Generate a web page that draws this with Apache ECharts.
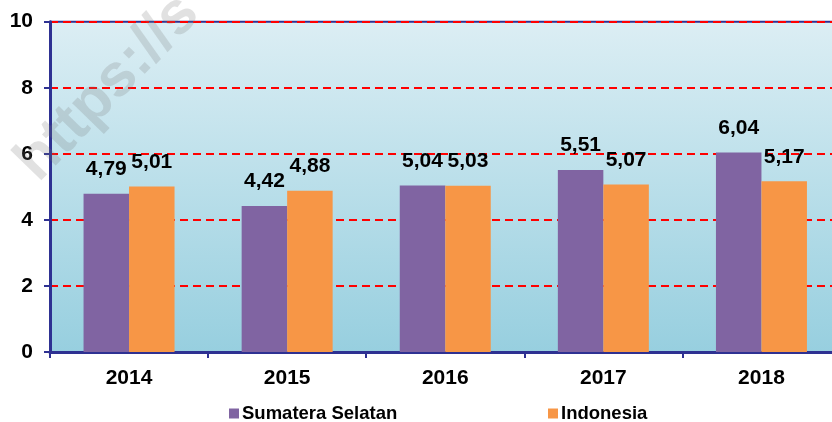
<!DOCTYPE html>
<html>
<head>
<meta charset="utf-8">
<script src="https://cdn.jsdelivr.net/npm/echarts@6/dist/echarts.min.js"></script>
<style>
  html, body { margin: 0; padding: 0; background: #ffffff; overflow: hidden; }
  /* the plot runs a few pixels past the right edge of the window */
  #chart { width: 841px; height: 422px; }
</style>
</head>
<body>
<div id="chart"></div>
<script>
// Growth figures per year, two regions
const years = ['2014', '2015', '2016', '2017', '2018'];
const sumateraSelatan = [4.79, 4.42, 5.04, 5.51, 6.04];
const indonesia = [5.01, 4.88, 5.03, 5.07, 5.17];
const yTicks = { min: 0, max: 10, interval: 2 };

const FONT = '"Liberation Sans", Arial, sans-serif';
const NAVY = '#2e3192';
const fmt = v => String(v.toFixed(2)).replace('.', ',');

const chart = echarts.init(document.getElementById('chart'), null, { renderer: 'canvas' });

const labelStyle = {
  show: true,
  position: 'top',
  distance: 14,
  color: '#000',
  fontFamily: FONT,
  fontWeight: 'bold',
  fontSize: 21,
  formatter: p => fmt(p.value)
};

const legendText = { fontFamily: FONT, fontWeight: 'bold', fontSize: 18.5, color: '#000', padding: [0, 0, 0, -2] };

chart.setOption({
  animation: false,
  grid: {
    left: 50, top: 21.7, bottom: 70, right: 0.5,
    show: true,
    borderColor: NAVY,
    borderWidth: 2,
    backgroundColor: {
      type: 'linear', x: 0, y: 0, x2: 0, y2: 1,
      colorStops: [
        { offset: 0, color: '#dceef4' },
        { offset: 1, color: '#97cfdf' }
      ]
    }
  },
  legend: [
    {
      data: ['Sumatera Selatan'],
      left: 224, top: 399,
      itemWidth: 10, itemHeight: 10, itemGap: 0,
      icon: 'rect',
      textStyle: legendText
    },
    {
      data: ['Indonesia'],
      left: 543, top: 399,
      itemWidth: 10, itemHeight: 10, itemGap: 0,
      icon: 'rect',
      textStyle: legendText
    }
  ],
  xAxis: {
    type: 'category',
    data: years,
    axisLine: { lineStyle: { color: NAVY, width: 3 } },
    axisTick: { show: true, length: 6, lineStyle: { color: NAVY, width: 2 } },
    axisLabel: { color: '#000', fontFamily: FONT, fontWeight: 'bold', fontSize: 21, margin: 16 }
  },
  yAxis: {
    type: 'value',
    min: yTicks.min, max: yTicks.max, interval: yTicks.interval,
    axisLine: { show: true, lineStyle: { color: NAVY, width: 3 } },
    axisTick: { show: true, length: 6, lineStyle: { color: NAVY, width: 2 } },
    axisLabel: { color: '#000', fontFamily: FONT, fontWeight: 'bold', fontSize: 21, margin: 17 },
    splitLine: { show: true, lineStyle: { color: '#ff0000', width: 2, type: [8, 5] } }
  },
  graphic: [
    {
      type: 'text',
      x: 108, y: 88,
      rotation: 0.8,
      z: 1,
      silent: true,
      style: {
        text: 'https://s',
        fontFamily: FONT,
        fontWeight: 'bold',
        fontSize: 60,
        fill: 'rgba(120,120,120,0.22)',
        textAlign: 'center',
        textVerticalAlign: 'middle'
      }
    }
  ],
  series: [
    {
      name: 'Sumatera Selatan',
      type: 'bar',
      data: sumateraSelatan,
      barWidth: 45.5,
      barGap: '0%',
      itemStyle: { color: '#8064a2' },
      label: labelStyle
    },
    {
      name: 'Indonesia',
      type: 'bar',
      data: indonesia,
      barWidth: 45.5,
      barGap: '0%',
      itemStyle: { color: '#f79646' },
      label: labelStyle
    }
  ]
});
</script>
</body>
</html>
